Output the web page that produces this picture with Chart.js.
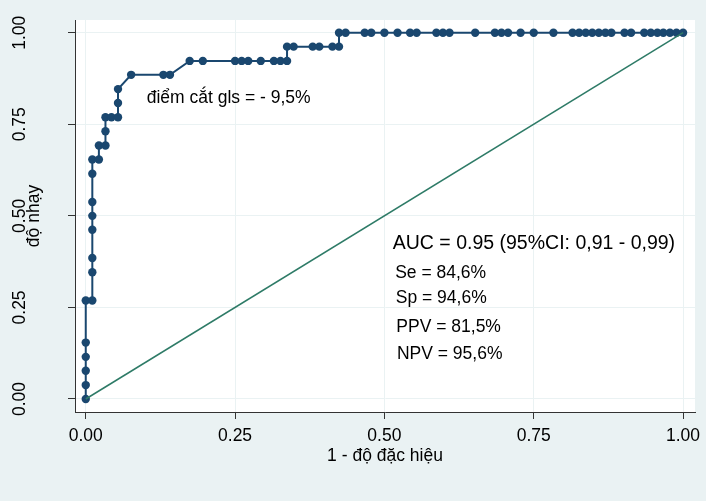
<!DOCTYPE html>
<html>
<head>
<meta charset="utf-8">
<script src="https://cdn.jsdelivr.net/npm/chart.js@4"></script>
<style>
  html, body { margin: 0; padding: 0; background: #eaf2f3; }
  canvas { display: block; }
</style>
</head>
<body>
<canvas id="rocChart" width="706" height="501"></canvas>
<script>
// ROC curve: 1 - specificity (x) and sensitivity (y), one entry per cut-off
const fpr = [
  0, 0, 0, 0, 0, 0,
  0.011, 0.011, 0.011, 0.011, 0.011, 0.011, 0.011, 0.011,
  0.022, 0.022, 0.033, 0.033, 0.033, 0.043, 0.054, 0.054, 0.054,
  0.076, 0.130, 0.141,
  0.174, 0.196, 0.250, 0.261, 0.272, 0.293, 0.315, 0.326, 0.337,
  0.337, 0.348, 0.380, 0.391, 0.413, 0.424,
  0.424, 0.435, 0.467, 0.478, 0.500, 0.522, 0.543, 0.554, 0.587, 0.598, 0.609,
  0.652, 0.685, 0.696, 0.707, 0.728, 0.750, 0.783, 0.815, 0.826, 0.837, 0.848,
  0.859, 0.870, 0.880, 0.902, 0.913, 0.935, 0.946, 0.957, 0.967, 0.978, 0.989, 1
];
const tpr = [
  0, 0.038, 0.077, 0.115, 0.154, 0.269,
  0.269, 0.346, 0.385, 0.462, 0.500, 0.538, 0.615, 0.654,
  0.654, 0.692, 0.692, 0.731, 0.769, 0.769, 0.769, 0.808, 0.846,
  0.885, 0.885, 0.885,
  0.923, 0.923, 0.923, 0.923, 0.923, 0.923, 0.923, 0.923, 0.923,
  0.962, 0.962, 0.962, 0.962, 0.962, 0.962,
  1, 1, 1, 1, 1, 1, 1, 1, 1, 1, 1,
  1, 1, 1, 1, 1, 1, 1, 1, 1, 1, 1,
  1, 1, 1, 1, 1, 1, 1, 1, 1, 1, 1, 1
];
// reference (chance) line
const refX = [0, 1];
const refY = [0, 1];

const xTicks = [0, 0.25, 0.5, 0.75, 1];
const yTicks = [0, 0.25, 0.5, 0.75, 1];
const tickLabels = ['0.00', '0.25', '0.50', '0.75', '1.00'];

// text placed in data coordinates
const notes = [
  { text: 'điểm cắt gls = - 9,5%', x: 0.102, y: 0.807, size: 17.5 },
  { text: 'AUC = 0.95 (95%CI: 0,91 - 0,99)', x: 0.514, y: 0.410, size: 19.5 },
  { text: 'Se = 84,6%', x: 0.518, y: 0.330, size: 17.5 },
  { text: 'Sp = 94,6%', x: 0.519, y: 0.261, size: 17.5 },
  { text: 'PPV = 81,5%', x: 0.520, y: 0.184, size: 17.5 },
  { text: 'NPV = 95,6%', x: 0.521, y: 0.108, size: 17.5 }
];

const FONT = '"Liberation Sans", Arial, sans-serif';
const NAVY = '#1a476f';
const GREEN = '#2e7b67';
const BG = '#eaf2f3';

const backgroundPlugin = {
  id: 'stataBackground',
  beforeDraw(chart) {
    const { ctx, chartArea: a } = chart;
    ctx.save();
    ctx.fillStyle = BG;
    ctx.fillRect(0, 0, chart.width, chart.height);
    ctx.fillStyle = '#ffffff';
    ctx.fillRect(a.left, a.top, a.right - a.left, a.bottom - a.top);
    ctx.restore();
  }
};

const notesPlugin = {
  id: 'notes',
  afterDatasetsDraw(chart) {
    const { ctx, scales: { x, y } } = chart;
    ctx.save();
    ctx.fillStyle = '#000';
    ctx.textAlign = 'left';
    ctx.textBaseline = 'alphabetic';
    notes.forEach(n => {
      ctx.font = n.size + 'px ' + FONT;
      ctx.fillText(n.text, x.getPixelForValue(n.x), y.getPixelForValue(n.y));
    });
    ctx.restore();
  }
};

// no extra room for overhanging tick labels: the plot box is fixed
function noOverhang(s) {
  s.paddingTop = 0;
  s.paddingBottom = 0;
  s.paddingLeft = 0;
  s.paddingRight = 0;
}

const ctx = document.getElementById('rocChart').getContext('2d');
new Chart(ctx, {
  type: 'scatter',
  data: {
    datasets: [{
      label: 'reference',
      data: refX.map((v, i) => ({ x: v, y: refY[i] })),
      showLine: true,
      borderColor: GREEN,
      borderWidth: 1.5,
      pointRadius: 0
    }, {
      label: 'ROC',
      data: fpr.map((v, i) => ({ x: v, y: tpr[i] })),
      showLine: true,
      borderColor: NAVY,
      borderWidth: 2,
      backgroundColor: NAVY,
      pointBackgroundColor: NAVY,
      pointBorderWidth: 0,
      pointRadius: 4.2,
      tension: 0
    }]
  },
  options: {
    responsive: false,
    animation: false,
    devicePixelRatio: 1,
    layout: { padding: { top: 20, right: 11, left: 0, bottom: 0 } },
    plugins: {
      legend: { display: false },
      tooltip: { enabled: false }
    },
    scales: {
      x: {
        type: 'linear',
        min: -0.018,
        max: 1.02,
        afterBuildTicks: s => { s.ticks = xTicks.map(v => ({ value: v })); },
        afterFit: s => { s.height = 89; noOverhang(s); },
        ticks: {
          callback: (v, i) => tickLabels[i],
          autoSkip: false,
          maxRotation: 0,
          padding: 6.5,
          color: '#000',
          font: { family: FONT, size: 17.5 }
        },
        grid: { color: BG, lineWidth: 1, tickColor: '#333', tickLength: 7 },
        border: { color: '#333', width: 1 },
        title: {
          display: true,
          text: '1 - độ đặc hiệu',
          color: '#000',
          font: { family: FONT, size: 17.5 },
          padding: { top: 0, bottom: 34 }
        }
      },
      y: {
        type: 'linear',
        min: -0.0355,
        max: 1.0347,
        afterBuildTicks: s => { s.ticks = yTicks.map(v => ({ value: v })); },
        afterFit: s => { s.width = 75; noOverhang(s); },
        ticks: {
          callback: (v, i) => tickLabels[i],
          autoSkip: false,
          minRotation: 90,
          maxRotation: 90,
          crossAlign: 'center',
          padding: 30.5,
          color: '#000',
          font: { family: FONT, size: 17.5 }
        },
        grid: { color: BG, lineWidth: 1, tickColor: '#333', tickLength: 7 },
        border: { color: '#333', width: 1 },
        title: {
          display: true,
          text: 'độ nhạy',
          color: '#000',
          font: { family: FONT, size: 17.5 },
          padding: { top: 24, bottom: 0 }
        }
      }
    }
  },
  plugins: [backgroundPlugin, notesPlugin]
});
</script>
</body>
</html>
